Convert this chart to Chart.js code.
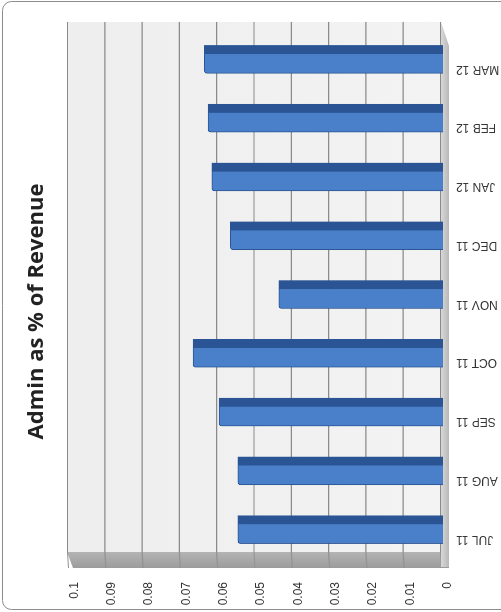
<!DOCTYPE html>
<html>
<head>
<meta charset="utf-8">
<title>Admin as % of Revenue</title>
<script src="https://cdn.jsdelivr.net/npm/chart.js@4/dist/chart.umd.min.js"></script>
<style>
  html, body { margin: 0; padding: 0; background: #ffffff; overflow: hidden; }
  body { width: 501px; height: 612px; position: relative; }
  /* The chart is laid out as a column chart and turned a quarter turn counter-clockwise */
  #frame {
    position: absolute; left: 0; top: 0;
    width: 612px; height: 501px;
    transform-origin: 0 0;
    transform: translate(0, 612px) rotate(-90deg);
  }
  #chart { display: block; }
</style>
</head>
<body>
<div id="frame"><canvas id="chart" width="612" height="501"></canvas></div>
<script>
// Monthly admin cost as a share of revenue
const categories = ['JUL 11', 'AUG 11', 'SEP 11', 'OCT 11', 'NOV 11', 'DEC 11', 'JAN 12', 'FEB 12', 'MAR 12'];
const adminShare = [0.055, 0.055, 0.060, 0.067, 0.044, 0.057, 0.062, 0.063, 0.064];
const valueTicks = ['0', '0.01', '0.02', '0.03', '0.04', '0.05', '0.06', '0.07', '0.08', '0.09', '0.1'];
const valueMin = 0;
const valueMax = 0.1;
const valueStep = 0.01;

// Rounded frame around the whole chart plus the grey 3-D box (back wall, side wall, floor)
const boxPlugin = {
  id: 'box3d',
  beforeDraw(chart) {
    const ctx = chart.ctx;
    const x = 2.5, y = 2.5, w = chart.width - 4, h = chart.height + 30, r = 9;
    ctx.save();
    ctx.strokeStyle = '#8c8c8c';
    ctx.lineWidth = 1;
    ctx.beginPath();
    ctx.moveTo(x + r, y);
    ctx.arcTo(x + w, y, x + w, y + h, r);
    ctx.arcTo(x + w, y + h, x, y + h, r);
    ctx.arcTo(x, y + h, x, y, r);
    ctx.arcTo(x, y, x + w, y, r);
    ctx.closePath();
    ctx.stroke();
    ctx.restore();
  },
  beforeDatasetsDraw(chart) {
    const { ctx, chartArea: ca, scales: { y } } = chart;
    const wallTop = y.getPixelForValue(valueMax) - 3;
    const base = y.getPixelForValue(valueMin);
    const wallL = ca.left + 7, wallR = ca.right + 8;
    const bandL = ca.left - 9;
    ctx.save();

    // back wall
    const wg = ctx.createLinearGradient(0, wallTop, 0, base);
    wg.addColorStop(0, '#eeeeee');
    wg.addColorStop(1, '#f3f3f3');
    ctx.fillStyle = wg;
    ctx.fillRect(wallL, wallTop, wallR - wallL, base - 2 - wallTop);

    // side wall
    const sg = ctx.createLinearGradient(bandL, 0, wallL, 0);
    sg.addColorStop(0, '#9c9c9c');
    sg.addColorStop(1, '#b4b4b4');
    ctx.fillStyle = sg;
    ctx.beginPath();
    ctx.moveTo(wallL, wallTop);
    ctx.lineTo(wallL, base + 6);
    ctx.lineTo(bandL, base + 6);
    ctx.lineTo(bandL, wallTop + 6);
    ctx.closePath();
    ctx.fill();

    // value gridlines on the back wall and the side wall
    ctx.lineWidth = 1.2;
    y.ticks.forEach((t) => {
      const py = y.getPixelForValue(t.value) - 2.5;
      ctx.strokeStyle = '#8a8a8a';
      ctx.beginPath();
      ctx.moveTo(wallL, py);
      ctx.lineTo(wallR, py);
      ctx.stroke();
      ctx.strokeStyle = '#929292';
      ctx.beginPath();
      ctx.moveTo(bandL, py + 1);
      ctx.lineTo(wallL, py);
      ctx.stroke();
    });

    // floor
    const fg = ctx.createLinearGradient(0, base - 2, 0, base + 6);
    fg.addColorStop(0, '#d8d8d8');
    fg.addColorStop(1, '#b8b8b8');
    ctx.fillStyle = fg;
    ctx.beginPath();
    ctx.moveTo(bandL + 1, base - 2);
    ctx.lineTo(wallR, base - 2);
    ctx.lineTo(wallR - 24, base + 6);
    ctx.lineTo(bandL + 1, base + 6);
    ctx.closePath();
    ctx.fill();

    ctx.restore();
  }
};

const tickFont = { family: "'Liberation Sans', Arial, sans-serif", size: 12 };

new Chart(document.getElementById('chart'), {
  type: 'bar',
  data: {
    labels: categories,
    datasets: [{
      label: 'Admin as % of Revenue',
      data: adminShare,
      backgroundColor: '#4a80ca',
      borderColor: '#2a5493',
      borderWidth: { top: 1, left: 1, right: 9, bottom: 0 },
      borderRadius: { topLeft: 3, topRight: 0, bottomLeft: 0, bottomRight: 0 },
      barThickness: 28
    }]
  },
  options: {
    responsive: false,
    animation: false,
    devicePixelRatio: 1,
    layout: { padding: { left: 0, right: 11, top: 0, bottom: 0 } },
    plugins: {
      legend: { display: false },
      tooltip: { enabled: false },
      title: {
        display: true,
        text: 'Admin as % of Revenue',
        color: '#222222',
        font: { family: "'Open Sans', 'Liberation Sans', sans-serif", size: 22, weight: 'bold' },
        padding: { top: 24, bottom: 19.6 }
      }
    },
    scales: {
      x: {
        grid: { display: false, drawTicks: false },
        border: { display: false },
        ticks: {
          autoSkip: false,
          minRotation: 90,
          maxRotation: 90,
          padding: 13,
          labelOffset: -9.5,
          color: '#333333',
          font: tickFont
        },
        afterFit(scale) { scale.height = 58; }
      },
      y: {
        min: valueMin,
        max: valueMax,
        grid: { display: false, drawTicks: false },
        border: { display: false },
        ticks: {
          stepSize: valueStep,
          padding: 23,
          labelOffset: 4.5,
          color: '#333333',
          font: tickFont,
          callback: (v) => valueTicks[Math.round(v / valueStep)]
        },
        afterFit(scale) { scale.width = 53; }
      },
      // empty margin axis on the far side that keeps the plot clear of the frame edge
      gap: {
        position: 'right',
        grid: { display: false, drawTicks: false },
        border: { display: false },
        ticks: { display: false },
        afterFit(scale) { scale.width = 19; }
      }
    }
  },
  plugins: [boxPlugin]
});
</script>
</body>
</html>
